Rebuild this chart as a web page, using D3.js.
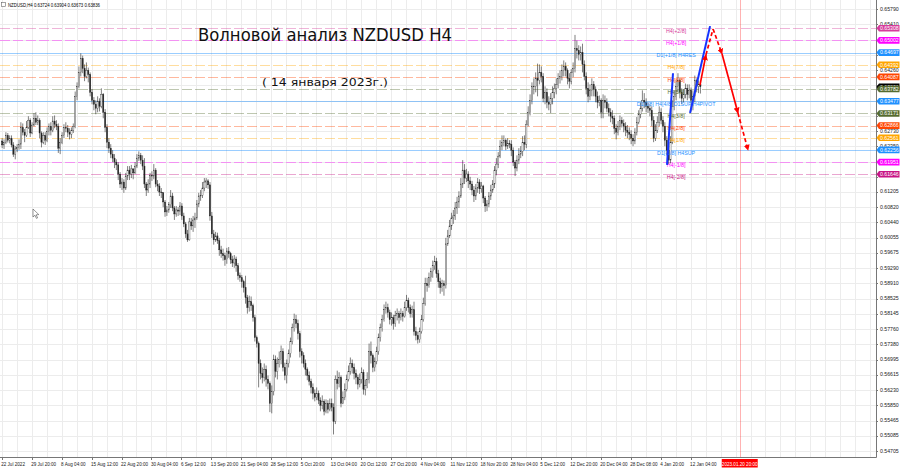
<!DOCTYPE html>
<html><head><meta charset="utf-8">
<script src="https://cdn.jsdelivr.net/npm/d3@7"></script>
<style>html,body{margin:0;padding:0;background:#fff;}svg{display:block;}</style>
</head><body><svg id="c" width="900" height="468"></svg>
<script>
// ---------------- DATA (prices in pips, 1 pip = 0.0001) ----------------
const headerText = "NZDUSD,H4  0.63724 0.63904 0.63673 0.63836";
const titleText = "Волновой анализ NZDUSD H4";
const subtitleText = "( 14 января 2023г.)";
const firstOpen = 6248;
const closes = [
6238,6245,
6262,6250,6255,6238,6215,6228,6232,6240,6282,6270,6262,6282,6300,6268,6288,
6305,6295,6300,6268,6245,6262,6250,6272,6285,6275,6298,6290,6285,6230,6245,
6262,6282,6280,6270,6265,6275,6285,6360,6385,6420,6455,6430,6410,6425,6415,
6370,6350,6340,6330,6348,6335,6365,6320,6282,6245,6230,6215,6205,6195,6188,
6165,6140,6145,6130,6160,6175,6165,6178,6168,6185,6205,6212,6200,6185,6140,
6125,6140,6162,6160,6175,6140,6135,6120,6118,6095,6070,6075,6088,6110,6080,
6065,6075,6072,6085,6060,6040,6015,6000,6045,6035,6050,6055,6090,6110,6112,
6130,6145,6148,6138,6060,6015,6000,6010,5998,5975,5965,5960,5950,5972,5965,
5950,5942,5952,5935,5910,5905,5895,5880,5855,5830,5845,5835,5805,5755,5740,
5690,5665,5655,5675,5650,5640,5590,5620,5700,5670,5690,5700,5720,5680,5660,
5690,5715,5745,5780,5800,5790,5765,5720,5710,5690,5675,5660,5645,5630,5615,
5605,5615,5598,5585,5595,5570,5590,5575,5590,5580,5545,5650,5640,5655,5590,
5605,5625,5650,5670,5690,5680,5665,5655,5638,5650,5668,5625,5635,5650,5720,
5710,5680,5695,5720,5755,5780,5800,5825,5830,5818,5800,5805,5790,5810,5815,
5805,5815,5808,5830,5848,5830,5815,5825,5770,5760,5750,5770,5800,5840,5890,
5885,5905,5920,5935,5945,5915,5895,5880,5890,5885,5990,6010,6035,6055,6060,
6080,6095,6110,6140,6175,6155,6165,6148,6140,6125,6110,6130,6145,6128,6135,
6105,6085,6090,6110,6125,6140,6175,6190,6210,6235,6245,6250,6235,6242,6240,
6225,6195,6180,6200,6215,6222,6245,6240,6290,6320,6350,6385,6385,6405,6400,
6420,6410,6355,6370,6345,6340,6355,6370,6380,6390,6405,6410,6425,6435,6425,
6405,6398,6420,6430,6480,6475,6465,6470,6440,6410,6380,6360,6375,6390,6378,
6360,6345,6350,6320,6350,6345,6330,6320,6310,6305,6280,6270,6285,6300,6292,
6285,6275,6270,6265,6255,6248,6270,6295,6315,6330,6350,6345,
6335,6330,6325,6300,6255,6275,6295,6320,6300,6285,6250,6225,6200,6245,6335,
6360,6385,6400,6370,6355,6365,6380,6365,6375,6350,6360,6400,6385,6390,6384];
const highs = [
6255,6252,
6270,6268,6262,6262,6245,6235,6240,6252,6295,6292,6278,6298,6310,6305,6295,
6318,6320,6312,6305,6272,6270,6270,6282,6292,6295,6310,6312,6300,6292,6255,
6270,6290,6295,6288,6280,6282,6292,6372,6395,6435,6468,6462,6440,6445,6432,
6420,6378,6358,6350,6360,6355,6380,6368,6328,6290,6255,6240,6225,6215,6202,
6195,6170,6155,6152,6168,6185,6185,6188,6180,6195,6215,6222,6218,6212,6205,
6145,6152,6168,6172,6190,6180,6150,6142,6130,6120,6100,6085,6095,6125,6118,
6085,6085,6082,6095,6092,6068,6045,6025,6055,6055,6060,6068,6100,6118,6125,
6145,6155,6155,6152,6145,6070,6025,6020,6018,6005,5985,5978,5968,5980,5982,
5970,5960,5962,5958,5942,5918,5912,5900,5910,5862,5860,5858,5840,5812,5760,
5745,5700,5680,5690,5685,5660,5645,5635,5712,5710,5705,5720,5735,5728,5692,
5700,5725,5755,5790,5815,5812,5800,5772,5728,5718,5700,5680,5670,5652,5640,
5625,5630,5622,5605,5610,5600,5600,5598,5602,5602,5590,5660,5672,5668,5660,
5620,5640,5662,5685,5705,5700,5690,5675,5662,5665,5680,5675,5650,5668,5740,
5745,5715,5705,5732,5765,5790,5812,5838,5845,5840,5825,5818,5812,5822,5828,
5822,5828,5822,5845,5862,5855,5838,5835,5845,5782,5770,5780,5812,5855,5905,
5905,5918,5930,5948,5960,5955,5925,5905,5900,5898,6005,6025,6050,6068,6075,
6095,6108,6122,6155,6200,6190,6178,6172,6158,6148,6135,6140,6155,6152,6145,
6138,6110,6100,6120,6138,6150,6185,6205,6220,6250,6262,6262,6255,6255,6250,
6250,6232,6200,6212,6230,6235,6260,6262,6300,6335,6365,6395,6405,6420,6442,
6440,6435,6418,6385,6380,6360,6368,6385,6392,6405,6418,6425,6440,6450,6445,
6430,6418,6428,6445,6514,6500,6488,6485,6492,6450,6420,6395,6390,6405,6398,
6385,6372,6362,6355,6365,6362,6355,6342,6330,6325,6312,6290,6298,6312,6308,
6302,6295,6288,6282,6275,6265,6280,6308,6325,6345,6375,6368,
6355,6345,6340,6335,6310,6290,6310,6335,6330,6310,6295,6260,6235,6260,6350,
6375,6400,6418,6405,6380,6378,6392,6390,6390,6382,6375,6412,6405,6400,6390];
const lows = [
6230,6228,
6240,6244,6242,6232,6208,6202,6220,6226,6228,6262,6245,6258,6278,6258,6265,
6285,6288,6288,6255,6232,6240,6238,6245,6262,6262,6270,6280,6275,6218,6215,
6240,6255,6270,6258,6252,6255,6268,6280,6350,6380,6410,6418,6398,6405,6395,
6360,6340,6325,6315,6320,6322,6330,6305,6270,6230,6218,6205,6195,6180,6175,
6150,6130,6125,6118,6125,6150,6150,6155,6152,6165,6180,6198,6190,6175,6130,
6110,6118,6130,6148,6152,6132,6122,6110,6105,6082,6058,6060,6068,6080,6072,
6050,6058,6060,6062,6050,6032,6005,5995,5998,6025,6020,6030,6050,6082,6098,
6105,6122,6130,6128,6048,6005,5988,5995,5990,5960,5955,5948,5935,5940,5955,
5940,5932,5930,5920,5900,5895,5880,5868,5840,5815,5820,5822,5795,5745,5730,
5630,5650,5640,5645,5632,5625,5568,5565,5610,5655,5650,5680,5688,5670,5648,
5640,5680,5705,5738,5770,5778,5750,5705,5690,5680,5660,5648,5635,5615,5600,
5595,5598,5588,5570,5575,5560,5565,5565,5570,5570,5512,5538,5625,5630,5580,
5588,5598,5620,5645,5662,5665,5650,5638,5625,5630,5640,5612,5610,5628,5640,
5690,5668,5670,5688,5712,5745,5770,5795,5815,5805,5788,5785,5775,5782,5798,
5790,5798,5795,5805,5822,5818,5805,5805,5760,5748,5740,5742,5765,5795,5835,
5870,5880,5895,5905,5925,5905,5880,5865,5870,5860,5878,5985,6005,6025,6040,
6050,6065,6080,6105,6130,6140,6145,6130,6125,6112,6095,6100,6118,6115,6118,
6092,6070,6072,6082,6100,6118,6130,6162,6180,6205,6225,6235,6225,6228,6230,
6210,6185,6160,6172,6190,6205,6210,6225,6230,6285,6312,6340,6365,6370,6360,
6390,6395,6345,6340,6330,6325,6318,6340,6355,6365,6380,6392,6400,6410,6410,
6390,6380,6390,6408,6420,6455,6450,6450,6420,6400,6365,6345,6350,6360,6360,
6345,6330,6335,6305,6305,6330,6320,6310,6295,6290,6265,6252,6262,6275,6282,
6270,6260,6255,6250,6240,6235,6240,6262,6290,6305,6322,6330,
6320,6318,6310,6285,6245,6248,6268,6285,6290,6270,6235,6212,6190,6192,6240,
6325,6350,6370,6355,6340,6345,6355,6350,6355,6322,6325,6345,6370,6368,6367];

// time-axis labels, one every 16 bars
const timeLabels = ["22 Jul 2022","29 Jul 20:00","8 Aug 04:00","15 Aug 12:00","22 Aug 20:00","30 Aug 04:00",
"6 Sep 12:00","13 Sep 20:00","21 Sep 04:00","28 Sep 12:00","5 Oct 20:00","13 Oct 04:00","20 Oct 12:00",
"27 Oct 20:00","4 Nov 04:00","11 Nov 12:00","18 Nov 20:00","28 Nov 04:00","5 Dec 12:00","12 Dec 20:00",
"20 Dec 04:00","28 Dec 08:00","4 Jan 20:00","12 Jan 04:00"];
const priceTicks = [0.65790,0.65410,0.65025,0.64645,0.64260,0.63880,0.63495,0.63115,0.62730,0.62350,
0.61965,0.61585,0.61205,0.60820,0.60440,0.60055,0.59675,0.59290,0.58910,0.58525,0.58145,0.57760,
0.57380,0.56995,0.56615,0.56230,0.55850,0.55465,0.55085,0.54705];

// Murrey levels
const levelPrices = [0.65308,0.65002,0.64697,0.64392,0.64087,0.63782,0.63477,0.63171,0.62866,0.62561,0.62256,0.61951,0.61646];
const levelNames = ["H4[+2/8]","H4[+1/8]","D1[+1/8] H4RES","H4[7/8]","H4[6/8]","H4[5/8]","D1[0/8] H4[4/8] D1SUP H4PIVOT",
"H4[3/8]","H4[2/8]","H4[1/8]","D1[-1/8] H4SUP","H4[-1/8]","H4[-2/8]"];
const lastPrice = 0.63836;

// vertical marker line (future time)
const markerLabel = "2023.01.20 20:00";
const markerBar = 394.25;

// wave annotations: [bar position, price]
const blueWave1 = [[355.4,0.6188],[358.6,0.6418]];
const blueWave2 = [[367.7,0.6318],[378.4,0.6536]];
const forecastPath = [[373.0,0.6388],[376.2,0.6464],[380.0,0.6529],[384.8,0.6466],[393.3,0.6318],[398.7,0.6225]];

// ---------------- STYLE ----------------
const levelColors = ["#d63c9c","#ff00ff","#1e90ff","#ffa500","#ff4500","#556b2f","#1e90ff","#556b2f","#ff4500","#ffa500","#1e90ff","#ff00ff","#c71585"];
const levelDashed = [true,true,false,true,true,true,false,true,true,true,false,true,true];
const segDashed = [false,true,true,false,true];
const segArrow = [true,false,true,true,true];

const W=900,H=468,plotR=876,plotB=457;
const FONT = "'Liberation Sans', Arial, sans-serif";
const svg = d3.select("#c");
const x = d3.scaleLinear().domain([0,400]).range([1.7,1.7+400*1.872]);
const y = d3.scaleLinear().domain([0.54705,0.65790]).range([451,9]);
const P = v => v/10000;
const cr = v => Math.round(v)+0.5;

if (closes.length!==highs.length || closes.length!==lows.length) console.error("length mismatch", closes.length, highs.length, lows.length);

svg.append("rect").attr("width",W).attr("height",H).attr("fill","#fff");
const defs = svg.append("defs");
defs.append("clipPath").attr("id","plot").append("rect").attr("x",0).attr("y",0).attr("width",plotR).attr("height",plotB);
defs.append("marker").attr("id","arr").attr("viewBox","0 0 10 10").attr("refX",9).attr("refY",5)
  .attr("markerWidth",6).attr("markerHeight",6).attr("markerUnits","userSpaceOnUse").attr("orient","auto")
  .append("path").attr("d","M0,0 L10,5 L0,10 z").attr("fill","#ff0000");

const g = svg.append("g").attr("clip-path","url(#plot)");

// grid
g.append("g").selectAll("line").data(priceTicks).join("line")
  .attr("x1",0).attr("x2",plotR).attr("y1",d=>cr(y(d))).attr("y2",d=>cr(y(d)))
  .attr("stroke","#ececec").attr("stroke-width",1);
g.append("g").selectAll("line").data(d3.range(0,480,8)).join("line")
  .attr("x1",d=>cr(x(d))).attr("x2",d=>cr(x(d))).attr("y1",0).attr("y2",plotB)
  .attr("stroke","#ececec").attr("stroke-width",1);

// level lines
g.append("g").selectAll("line").data(levelPrices).join("line")
  .attr("x1",0).attr("x2",plotR).attr("y1",d=>cr(y(d))).attr("y2",d=>cr(y(d)))
  .attr("stroke",(d,i)=>levelColors[i]).attr("stroke-opacity",(d,i)=>levelDashed[i]?0.38:0.45)
  .attr("stroke-width",1).attr("stroke-dasharray",(d,i)=>levelDashed[i]?"10,3":null);

// future marker vertical line
g.append("line").attr("x1",cr(x(markerBar))).attr("x2",cr(x(markerBar))).attr("y1",0).attr("y2",plotB)
  .attr("stroke","#ff0000").attr("stroke-opacity",0.3);

// candles
const bars = closes.map((c,i)=>({i, o: i? closes[i-1] : firstOpen, c, h: highs[i], l: lows[i]}));
const cg = g.append("g");
cg.selectAll("line").data(bars).join("line")
  .attr("x1",d=>x(d.i+0.25)).attr("x2",d=>x(d.i+0.25))
  .attr("y1",d=>y(P(d.h))).attr("y2",d=>y(P(d.l)))
  .attr("stroke","#2a2a2a").attr("stroke-width",0.6);
cg.selectAll("rect").data(bars).join("rect")
  .attr("x",d=>x(d.i+0.25)-0.6).attr("width",1.2)
  .attr("y",d=>y(P(Math.max(d.o,d.c))))
  .attr("height",d=>Math.max(0.5,Math.abs(y(P(d.o))-y(P(d.c)))))
  .attr("fill",d=>d.c>=d.o?"#fff":"#222").attr("stroke","#2a2a2a").attr("stroke-width",0.35);

// level text labels
const labelX = x(360.25);
g.append("g").selectAll("text").data(levelNames).join("text")
  .attr("x",labelX).attr("y",(d,i)=>y(levelPrices[i])+4.6)
  .attr("text-anchor","middle").attr("font-family",FONT).attr("font-size",5.3)
  .attr("fill",(d,i)=>levelColors[i]).text(d=>d);

// blue wave lines
const line = d3.line().x(d=>x(d[0])).y(d=>y(d[1]));
[blueWave1, blueWave2].forEach(w=>{
  g.append("path").attr("d",line(w)).attr("fill","none").attr("stroke","#1533ff").attr("stroke-width",2);
});
// red forecast path
for (let k=0;k<forecastPath.length-1;k++){
  const seg = g.append("path").attr("d",line([forecastPath[k],forecastPath[k+1]]))
    .attr("fill","none").attr("stroke","#ff0000").attr("stroke-width",1.7);
  if (segDashed[k]) seg.attr("stroke-dasharray","4,2.5");
  if (segArrow[k]) seg.attr("marker-end","url(#arr)");
}

// titles
svg.append("text").attr("x",198).attr("y",41).attr("font-family","'DejaVu Sans', sans-serif").attr("font-size",17)
  .attr("textLength",254).attr("lengthAdjust","spacingAndGlyphs").attr("fill","#111").text(titleText);
svg.append("text").attr("x",262).attr("y",86).attr("font-family","'DejaVu Sans', sans-serif").attr("font-size",11)
  .attr("textLength",126).attr("lengthAdjust","spacingAndGlyphs").attr("fill","#111").text(subtitleText);

// header
svg.append("rect").attr("x",1.5).attr("y",2.5).attr("width",4).attr("height",4).attr("fill","#fff").attr("stroke","#666").attr("stroke-width",0.6);
svg.append("text").attr("x",8).attr("y",6.6).attr("font-family",FONT).attr("font-size",4.8)
  .attr("textLength",92).attr("lengthAdjust","spacingAndGlyphs").attr("fill","#000").text(headerText);

// mouse pointer
svg.append("path").attr("d","M33,209 L33,217 L35,215.2 L36.4,218.4 L37.6,217.9 L36.2,214.8 L38.8,214.6 Z")
  .attr("fill","#fff").attr("stroke","#333").attr("stroke-width",0.5);

// axes frame
svg.append("line").attr("x1",plotR+0.5).attr("x2",plotR+0.5).attr("y1",0).attr("y2",plotB+0.5).attr("stroke","#777");
svg.append("line").attr("x1",0).attr("x2",plotR+0.5).attr("y1",plotB+0.5).attr("y2",plotB+0.5).attr("stroke","#777");

// price tick labels (those sitting under a level box are hidden, as in the terminal)
const boxPrices = levelPrices.concat([lastPrice]);
const visibleTicks = priceTicks.filter(t => !boxPrices.some(b => Math.abs(y(b)-y(t)) < 3));
svg.append("g").selectAll("text").data(visibleTicks).join("text")
  .attr("x",880).attr("y",d=>y(d)+1.5).attr("font-family",FONT).attr("font-size",5.2).attr("fill","#222")
  .text(d=>d3.format(".5f")(d));
svg.append("g").selectAll("line").data(priceTicks).join("line")
  .attr("x1",plotR).attr("x2",plotR+2).attr("y1",d=>cr(y(d))).attr("y2",d=>cr(y(d))).attr("stroke","#777");

// price boxes
function priceBox(v,color){
  const yy=y(v);
  svg.append("path").attr("d",`M${plotR+0.5},${yy} L${plotR+3},${yy-3.3} L899.5,${yy-3.3} L899.5,${yy+3.3} L${plotR+3},${yy+3.3} Z`)
    .attr("fill",color);
  svg.append("text").attr("x",880).attr("y",yy+1.8).attr("font-family",FONT).attr("font-size",5.2)
    .attr("fill","#fff").text(d3.format(".5f")(v));
}
levelPrices.forEach((v,i)=>{ if(i<5) priceBox(v,levelColors[i]); });
priceBox(lastPrice,"#000");
levelPrices.forEach((v,i)=>{ if(i>=5) priceBox(v,levelColors[i]); });

// time labels
const tg = svg.append("g");
tg.selectAll("text").data(timeLabels).join("text")
  .attr("x",(d,i)=>x(i*16)-0.5).attr("y",465.5).attr("font-family",FONT).attr("font-size",4.6).attr("fill","#222").text(d=>d);
tg.selectAll("line").data(timeLabels).join("line")
  .attr("x1",(d,i)=>cr(x(i*16))).attr("x2",(d,i)=>cr(x(i*16))).attr("y1",plotB).attr("y2",plotB+3).attr("stroke","#777");

// marker date box
const mx = x(markerBar);
svg.append("rect").attr("x",mx-18).attr("y",459).attr("width",36).attr("height",8.5).attr("fill","#ff0000");
svg.append("text").attr("x",mx).attr("y",465.6).attr("text-anchor","middle").attr("font-family",FONT).attr("font-size",4.6)
  .attr("fill","#fff").text(markerLabel);
</script></body></html>
